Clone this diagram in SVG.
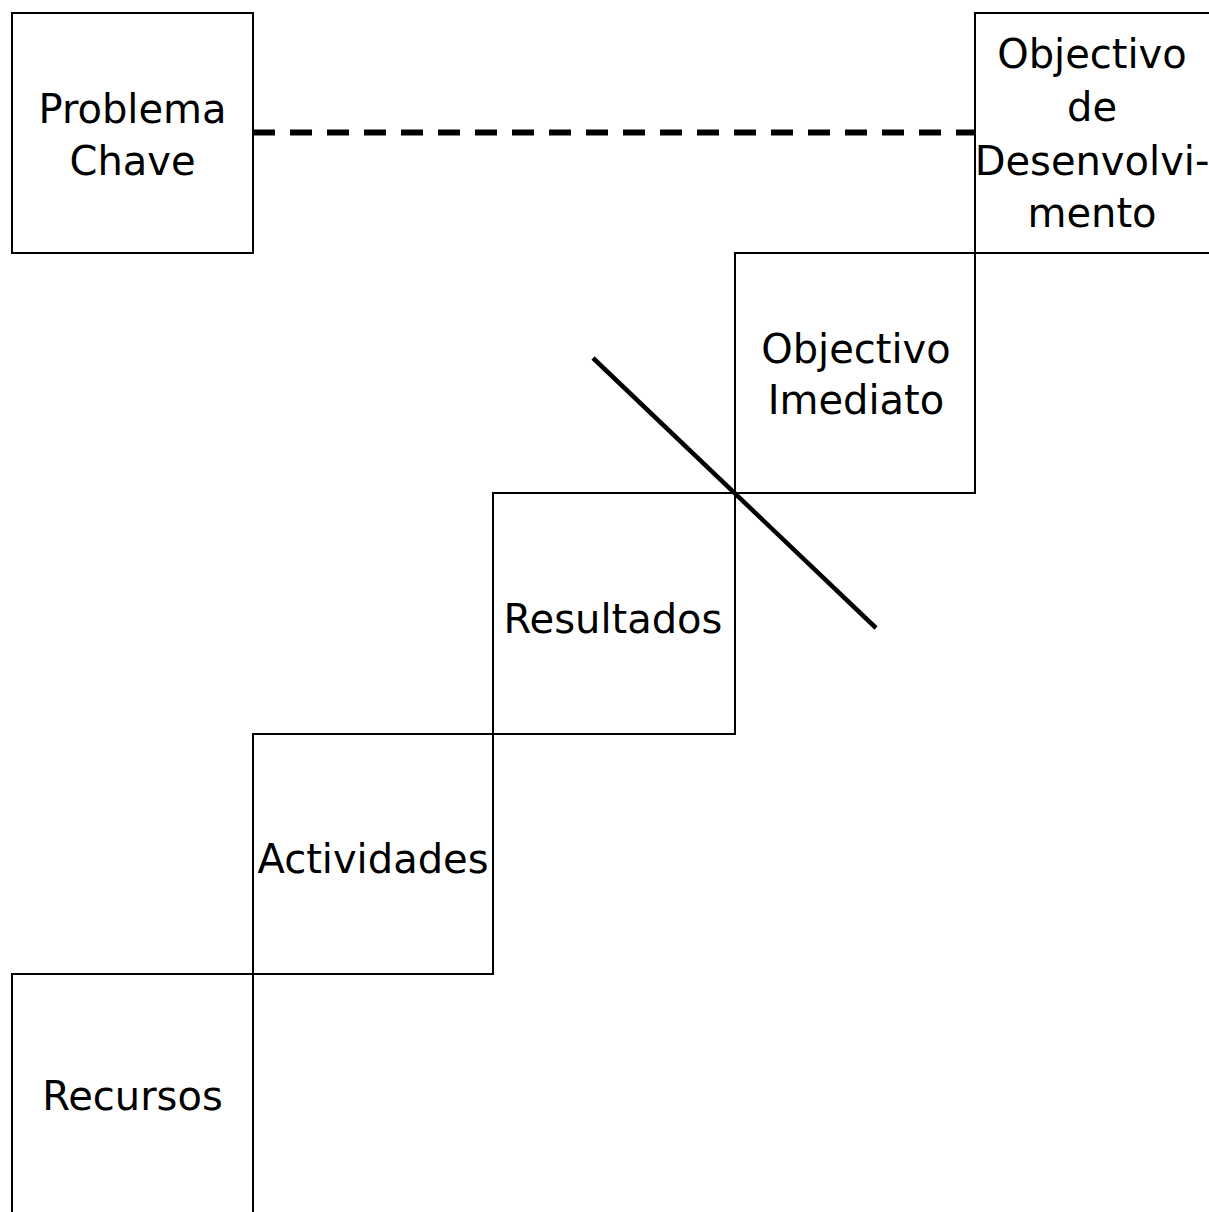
<svg xmlns="http://www.w3.org/2000/svg" width="1209" height="1212" viewBox="0 0 1209 1212">
<style>
.box{fill:#fff;stroke:#000;stroke-width:2}
.lbl{font-family:"DejaVu Sans",sans-serif;font-size:40px;fill:#000;text-anchor:middle}
</style>
<rect width="1209" height="1212" fill="#fff"/>
<g id="problema"><rect class="box" x="12" y="13" width="241" height="240"/>
<text class="lbl" x="132.5" y="123">Problema</text><text class="lbl" x="132.5" y="175">Chave</text></g>
<g id="obj-desenv"><rect class="box" x="975" y="13" width="245" height="240"/>
<text class="lbl" x="1092" y="68">Objectivo</text><text class="lbl" x="1092" y="121">de</text><text class="lbl" x="1092" y="175">Desenvolvi-</text><text class="lbl" x="1092" y="227">mento</text></g>
<g id="obj-imediato"><rect class="box" x="735" y="253" width="240" height="240"/>
<text class="lbl" x="856" y="363">Objectivo</text><text class="lbl" x="856" y="414">Imediato</text></g>
<g id="resultados"><rect class="box" x="493" y="493" width="242" height="241"/>
<text class="lbl" x="613" y="633">Resultados</text></g>
<g id="actividades"><rect class="box" x="253" y="734" width="240" height="240"/>
<text class="lbl" x="373" y="873">Actividades</text></g>
<g id="recursos"><rect class="box" x="12" y="974" width="241" height="250"/>
<text class="lbl" x="132.5" y="1110">Recursos</text></g>
<g id="connectors">
<line x1="253" y1="132.5" x2="975" y2="132.5" stroke="#000" stroke-width="6" stroke-dasharray="22 15"/>
<line x1="593" y1="358" x2="876" y2="628" stroke="#000" stroke-width="4.5"/>
</g>
</svg>
